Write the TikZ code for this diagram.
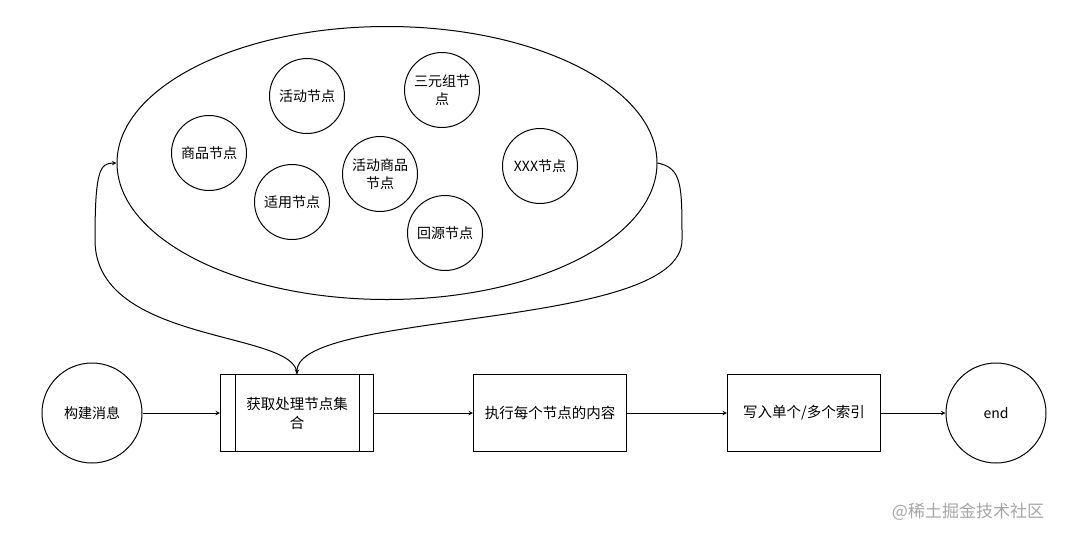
\documentclass[tikz,border=0pt]{standalone}
\usepackage{fontspec}
\setmainfont{Noto Sans CJK SC}
\usepackage{xcolor}
\usetikzlibrary{shapes.geometric, arrows, positioning, calc}

\begin{document}
\begin{tikzpicture}[
    x=1pt, y=-1pt,
    node/.style={draw, circle, minimum size=75pt, inner sep=0pt, align=center, font=\fontsize{14}{18}\selectfont},
    bignode/.style={node, minimum size=100pt},
    box/.style={draw, rectangle, minimum width=153pt, minimum height=77pt, align=center, font=\fontsize{14.5}{19}\selectfont},
    >=stealth,
    line width=1pt
  ]
  \useasboundingbox (0,0) rectangle (1066,539);

  % Nodes
  \node[draw, ellipse, minimum width=540pt, minimum height=273pt] (group) at (387,163) {};
  \node[node] (huodong) at (307,96) {活动节点};
  \node[node] (sanyuan) at (442,90) {三元组节\\点};
  \node[node] (shangpin) at (209,153) {商品节点};
  \node[node] (shiyong) at (292,202) {适用节点};
  \node[node] (hdsp) at (380,174) {活动商品\\节点};
  \node[node] (xxx) at (540,166) {XXX节点};
  \node[node] (huiyuan) at (445,233) {回源节点};

  \node[bignode] (build) at (92,413) {构建消息};
  \node[box] (fetch) at (297,413) {获取处理节点集\\合};
  \node[box] (exec) at (550,413) {执行每个节点的内容};
  \node[box] (write) at (804,413) {写入单个/多个索引};
  \node[bignode] (end) at (996,413) {end};

  \draw ($(fetch.north west)+(15,0)$) -- ($(fetch.south west)+(15,0)$);
  \draw ($(fetch.north east)+(-15,0)$) -- ($(fetch.south east)+(-15,0)$);

  \node[text=gray!70, font=\fontsize{17}{19}\selectfont] (mark) at (968,512) {@稀土掘金技术社区};

  % Connections
  \draw[->] (build) -- (fetch);
  \draw[->] (fetch) -- (exec);
  \draw[->] (exec) -- (write);
  \draw[->] (write) -- (end);
  \draw[->] (fetch.north) .. controls (297,330) and (95,345) .. (95,240)
    .. controls (95,170) and (100,163) .. (group.west);
  \draw[->] (group.east) .. controls (682,168) and (682,185) .. (682,240)
    .. controls (682,330) and (297,310) .. (fetch.north);
\end{tikzpicture}
\end{document}
